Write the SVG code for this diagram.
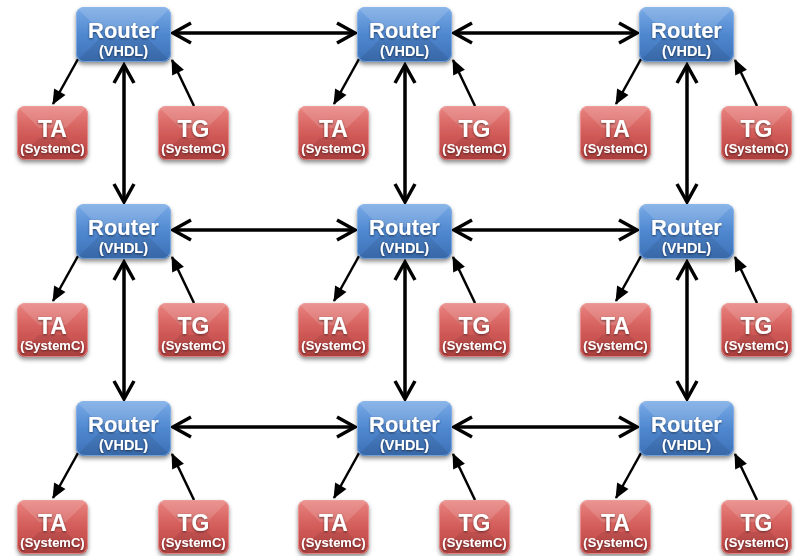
<svg xmlns="http://www.w3.org/2000/svg" xmlns:xlink="http://www.w3.org/1999/xlink" width="801" height="556" viewBox="0 0 801 556">
  <style>
    .lbl { font-family: "Liberation Sans", Arial, sans-serif; font-weight: bold; fill: #ffffff; text-anchor: middle; filter: url(#txtShadow); }
    .big { font-size: 22px; }
    .sub { font-size: 14.5px; }
    .agentBig { font-size: 23px; }
    .agentSub { font-size: 13px; }
    .link { stroke: #000; stroke-width: 3.5; fill: none; marker-start: url(#openHead); marker-end: url(#openHead); }
    .feed { stroke: #000; stroke-width: 2.5; fill: none; marker-end: url(#solidHead); }
  </style>
  <defs>
    <linearGradient id="blueGrad" x1="0" y1="0" x2="0" y2="1">
      <stop offset="0" stop-color="#78aae6"/>
      <stop offset="0.5" stop-color="#5088d0"/>
      <stop offset="1" stop-color="#3c70b6"/>
    </linearGradient>
    <linearGradient id="redGrad" x1="0" y1="0" x2="0" y2="1">
      <stop offset="0" stop-color="#e98380"/>
      <stop offset="0.5" stop-color="#d25c59"/>
      <stop offset="1" stop-color="#b94342"/>
    </linearGradient>
    <filter id="boxShadow" x="-20%" y="-20%" width="140%" height="150%">
      <feDropShadow dx="0" dy="2.5" stdDeviation="2" flood-color="#000" flood-opacity="0.45"/>
    </filter>
    <filter id="txtShadow" x="-20%" y="-30%" width="140%" height="160%">
      <feDropShadow dx="0" dy="1" stdDeviation="0.8" flood-color="#000" flood-opacity="0.55"/>
    </filter>
    <clipPath id="routerClip"><rect x="0" y="0" width="95" height="55" rx="8"/></clipPath>
    <clipPath id="agentClip"><rect x="0" y="0" width="71" height="54" rx="8"/></clipPath>
    <!-- glossy bevelled router box -->
    <symbol id="routerBox" viewBox="0 0 95 55" width="95" height="55" overflow="visible">
      <rect x="0" y="0" width="95" height="55" rx="8" fill="url(#blueGrad)" filter="url(#boxShadow)"/>
      <g clip-path="url(#routerClip)">
        <polygon points="0,0 95,0 72,23 23,23" fill="#ffffff" fill-opacity="0.14"/>
        <polygon points="0,55 95,55 72,32 23,32" fill="#000000" fill-opacity="0.08"/>
      </g>
      <rect x="0.5" y="0.5" width="94" height="54" rx="8" fill="none" stroke="#8bb6ea" stroke-opacity="0.7"/>
    </symbol>
    <!-- glossy bevelled traffic agent / generator box -->
    <symbol id="agentBox" viewBox="0 0 71 54" width="71" height="54" overflow="visible">
      <rect x="0" y="0" width="71" height="54" rx="8" fill="url(#redGrad)" filter="url(#boxShadow)"/>
      <g clip-path="url(#agentClip)">
        <polygon points="0,0 71,0 49,22 22,22" fill="#ffffff" fill-opacity="0.14"/>
        <polygon points="0,54 71,54 49,32 22,32" fill="#000000" fill-opacity="0.08"/>
      </g>
      <rect x="0.5" y="0.5" width="70" height="53" rx="8" fill="none" stroke="#f0a09d" stroke-opacity="0.7"/>
    </symbol>
    <marker id="openHead" markerUnits="userSpaceOnUse" viewBox="-24 -14 28 28" refX="0" refY="0" markerWidth="28" markerHeight="28" orient="auto-start-reverse">
      <path d="M-18,-10 L0,0 L-18,10" fill="none" stroke="#000" stroke-width="3.5" stroke-linejoin="miter"/>
    </marker>
    <marker id="solidHead" markerUnits="userSpaceOnUse" viewBox="-18 -10 20 20" refX="0" refY="0" markerWidth="20" markerHeight="20" orient="auto">
      <path d="M1,0 L-14,-6.5 L-14,6.5 Z" fill="#000"/>
    </marker>
  </defs>

  <rect width="801" height="556" fill="#ffffff"/>

  <!-- connectors -->
  <g id="connectors">
    <!-- router mesh: horizontal links -->
    <line class="link" x1="173" y1="33" x2="355" y2="33"/>
    <line class="link" x1="454" y1="33" x2="637" y2="33"/>
    <line class="link" x1="173" y1="230" x2="355" y2="230"/>
    <line class="link" x1="454" y1="230" x2="637" y2="230"/>
    <line class="link" x1="173" y1="427" x2="355" y2="427"/>
    <line class="link" x1="454" y1="427" x2="637" y2="427"/>
    <!-- router mesh: vertical links -->
    <line class="link" x1="124" y1="65" x2="124" y2="202"/>
    <line class="link" x1="405" y1="65" x2="405" y2="202"/>
    <line class="link" x1="687" y1="65" x2="687" y2="202"/>
    <line class="link" x1="124" y1="262" x2="124" y2="399"/>
    <line class="link" x1="405" y1="262" x2="405" y2="399"/>
    <line class="link" x1="687" y1="262" x2="687" y2="399"/>
    <!-- router to TA, TG to router -->
    <line class="feed" x1="78" y1="59" x2="53" y2="104"/>
    <line class="feed" x1="194" y1="106" x2="172" y2="60"/>
    <line class="feed" x1="359" y1="59" x2="334" y2="104"/>
    <line class="feed" x1="475" y1="106" x2="453" y2="60"/>
    <line class="feed" x1="641" y1="59" x2="616" y2="104"/>
    <line class="feed" x1="757" y1="106" x2="735" y2="60"/>

    <line class="feed" x1="78" y1="256" x2="53" y2="301"/>
    <line class="feed" x1="194" y1="303" x2="172" y2="257"/>
    <line class="feed" x1="359" y1="256" x2="334" y2="301"/>
    <line class="feed" x1="475" y1="303" x2="453" y2="257"/>
    <line class="feed" x1="641" y1="256" x2="616" y2="301"/>
    <line class="feed" x1="757" y1="303" x2="735" y2="257"/>

    <line class="feed" x1="78" y1="453" x2="53" y2="498"/>
    <line class="feed" x1="194" y1="500" x2="172" y2="454"/>
    <line class="feed" x1="359" y1="453" x2="334" y2="498"/>
    <line class="feed" x1="475" y1="500" x2="453" y2="454"/>
    <line class="feed" x1="641" y1="453" x2="616" y2="498"/>
    <line class="feed" x1="757" y1="500" x2="735" y2="454"/>
  </g>

  <!-- row 1 -->
  <g id="router-1-1"><use xlink:href="#routerBox" x="76" y="7"/><text class="lbl big" x="123.5" y="38">Router</text><text class="lbl sub" x="123.5" y="56">(VHDL)</text></g>
  <g id="router-1-2"><use xlink:href="#routerBox" x="357" y="7"/><text class="lbl big" x="404.5" y="38">Router</text><text class="lbl sub" x="404.5" y="56">(VHDL)</text></g>
  <g id="router-1-3"><use xlink:href="#routerBox" x="639" y="7"/><text class="lbl big" x="686.5" y="38">Router</text><text class="lbl sub" x="686.5" y="56">(VHDL)</text></g>
  <g id="ta-1-1"><use xlink:href="#agentBox" x="17" y="106"/><text class="lbl agentBig" x="52.5" y="137">TA</text><text class="lbl agentSub" x="52.5" y="153">(SystemC)</text></g>
  <g id="tg-1-1"><use xlink:href="#agentBox" x="158" y="106"/><text class="lbl agentBig" x="193.5" y="137">TG</text><text class="lbl agentSub" x="193.5" y="153">(SystemC)</text></g>
  <g id="ta-1-2"><use xlink:href="#agentBox" x="298" y="106"/><text class="lbl agentBig" x="333.5" y="137">TA</text><text class="lbl agentSub" x="333.5" y="153">(SystemC)</text></g>
  <g id="tg-1-2"><use xlink:href="#agentBox" x="439" y="106"/><text class="lbl agentBig" x="474.5" y="137">TG</text><text class="lbl agentSub" x="474.5" y="153">(SystemC)</text></g>
  <g id="ta-1-3"><use xlink:href="#agentBox" x="580" y="106"/><text class="lbl agentBig" x="615.5" y="137">TA</text><text class="lbl agentSub" x="615.5" y="153">(SystemC)</text></g>
  <g id="tg-1-3"><use xlink:href="#agentBox" x="721" y="106"/><text class="lbl agentBig" x="756.5" y="137">TG</text><text class="lbl agentSub" x="756.5" y="153">(SystemC)</text></g>

  <!-- row 2 -->
  <g id="router-2-1"><use xlink:href="#routerBox" x="76" y="204"/><text class="lbl big" x="123.5" y="235">Router</text><text class="lbl sub" x="123.5" y="253">(VHDL)</text></g>
  <g id="router-2-2"><use xlink:href="#routerBox" x="357" y="204"/><text class="lbl big" x="404.5" y="235">Router</text><text class="lbl sub" x="404.5" y="253">(VHDL)</text></g>
  <g id="router-2-3"><use xlink:href="#routerBox" x="639" y="204"/><text class="lbl big" x="686.5" y="235">Router</text><text class="lbl sub" x="686.5" y="253">(VHDL)</text></g>
  <g id="ta-2-1"><use xlink:href="#agentBox" x="17" y="303"/><text class="lbl agentBig" x="52.5" y="334">TA</text><text class="lbl agentSub" x="52.5" y="350">(SystemC)</text></g>
  <g id="tg-2-1"><use xlink:href="#agentBox" x="158" y="303"/><text class="lbl agentBig" x="193.5" y="334">TG</text><text class="lbl agentSub" x="193.5" y="350">(SystemC)</text></g>
  <g id="ta-2-2"><use xlink:href="#agentBox" x="298" y="303"/><text class="lbl agentBig" x="333.5" y="334">TA</text><text class="lbl agentSub" x="333.5" y="350">(SystemC)</text></g>
  <g id="tg-2-2"><use xlink:href="#agentBox" x="439" y="303"/><text class="lbl agentBig" x="474.5" y="334">TG</text><text class="lbl agentSub" x="474.5" y="350">(SystemC)</text></g>
  <g id="ta-2-3"><use xlink:href="#agentBox" x="580" y="303"/><text class="lbl agentBig" x="615.5" y="334">TA</text><text class="lbl agentSub" x="615.5" y="350">(SystemC)</text></g>
  <g id="tg-2-3"><use xlink:href="#agentBox" x="721" y="303"/><text class="lbl agentBig" x="756.5" y="334">TG</text><text class="lbl agentSub" x="756.5" y="350">(SystemC)</text></g>

  <!-- row 3 -->
  <g id="router-3-1"><use xlink:href="#routerBox" x="76" y="401"/><text class="lbl big" x="123.5" y="432">Router</text><text class="lbl sub" x="123.5" y="450">(VHDL)</text></g>
  <g id="router-3-2"><use xlink:href="#routerBox" x="357" y="401"/><text class="lbl big" x="404.5" y="432">Router</text><text class="lbl sub" x="404.5" y="450">(VHDL)</text></g>
  <g id="router-3-3"><use xlink:href="#routerBox" x="639" y="401"/><text class="lbl big" x="686.5" y="432">Router</text><text class="lbl sub" x="686.5" y="450">(VHDL)</text></g>
  <g id="ta-3-1"><use xlink:href="#agentBox" x="17" y="500"/><text class="lbl agentBig" x="52.5" y="531">TA</text><text class="lbl agentSub" x="52.5" y="547">(SystemC)</text></g>
  <g id="tg-3-1"><use xlink:href="#agentBox" x="158" y="500"/><text class="lbl agentBig" x="193.5" y="531">TG</text><text class="lbl agentSub" x="193.5" y="547">(SystemC)</text></g>
  <g id="ta-3-2"><use xlink:href="#agentBox" x="298" y="500"/><text class="lbl agentBig" x="333.5" y="531">TA</text><text class="lbl agentSub" x="333.5" y="547">(SystemC)</text></g>
  <g id="tg-3-2"><use xlink:href="#agentBox" x="439" y="500"/><text class="lbl agentBig" x="474.5" y="531">TG</text><text class="lbl agentSub" x="474.5" y="547">(SystemC)</text></g>
  <g id="ta-3-3"><use xlink:href="#agentBox" x="580" y="500"/><text class="lbl agentBig" x="615.5" y="531">TA</text><text class="lbl agentSub" x="615.5" y="547">(SystemC)</text></g>
  <g id="tg-3-3"><use xlink:href="#agentBox" x="721" y="500"/><text class="lbl agentBig" x="756.5" y="531">TG</text><text class="lbl agentSub" x="756.5" y="547">(SystemC)</text></g>
</svg>
